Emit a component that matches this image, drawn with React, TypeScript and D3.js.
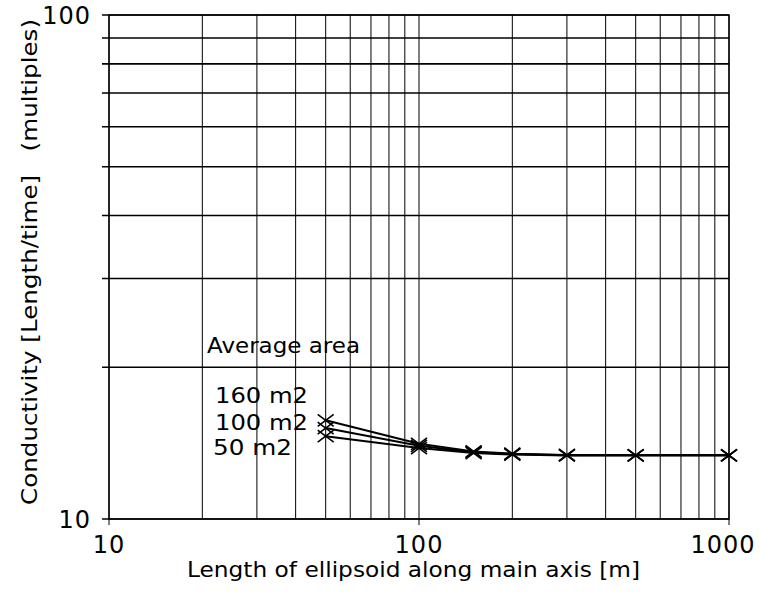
import React from "react";
import * as d3 from "d3";

const xValues = [50, 100, 150, 200, 300, 500, 1000];
const series160 = [15.7, 14.1, 13.62, 13.48, 13.4, 13.38, 13.38];
const series100 = [15.15, 13.97, 13.57, 13.45, 13.38, 13.38, 13.38];
const series50 = [14.6, 13.83, 13.52, 13.42, 13.37, 13.38, 13.38];
const seriesList = [series160, series100, series50];
const legendLabels = ["160 m2", "100 m2", "50 m2"];
const xMajor = [10, 100, 1000];
const yMajor = [10, 100];

const W = 761, H = 592;
const L = 109, R = 729, T = 15, B = 519;
const FONT = "'DejaVu Sans', sans-serif";

export default function App() {
  const x = d3.scaleLog().domain([10, 1000]).range([L, R]);
  const y = d3.scaleLog().domain([10, 100]).range([B, T]);
  const xGrid: number[] = [];
  for (const d of [10, 100]) for (let k = 1; k <= 9; k++) xGrid.push(d * k);
  xGrid.push(1000);
  const yGrid: number[] = [];
  for (let k = 1; k <= 10; k++) yGrid.push(10 * k);
  const line = d3.line<number>().x((_, i) => x(xValues[i])).y((v) => y(v));
  const legendY = [403, 430, 455];
  return (
    <svg width={W} height={H} style={{ position: "absolute", left: 0, top: 0, background: "#fff" }}>
      <rect width={W} height={H} fill="#fff" />
      {xGrid.map((v) => (
        <line key={"vx" + v} x1={x(v)} x2={x(v)} y1={T} y2={xMajor.includes(v) ? B + 6 : B}
          stroke="#000" strokeWidth={1} />
      ))}
      {yGrid.map((v) => (
        <line key={"hy" + v} x1={L - 7} x2={R} y1={y(v)} y2={y(v)} stroke="#000" strokeWidth={1.6} />
      ))}
      <rect x={L} y={T} width={R - L} height={B - T} fill="none" stroke="#000" strokeWidth={1.4} />
      {seriesList.map((s, si) => (
        <g key={"s" + si}>
          <path d={line(s) || ""} fill="none" stroke="#000" strokeWidth={2} />
          {s.map((v, i) => {
            const cx = x(xValues[i]), cy = y(v);
            return (
              <path key={i} d={`M${cx - 8},${cy - 6}L${cx + 8},${cy + 6}M${cx - 8},${cy + 6}L${cx + 8},${cy - 6}`}
                stroke="#000" strokeWidth={1.6} fill="none" />
            );
          })}
        </g>
      ))}
      {yMajor.map((v) => (
        <text key={"yl" + v} x={91} y={y(v) + 9} textAnchor="end" fontFamily={FONT} fontSize={24}
          letterSpacing={1}>{v}</text>
      ))}
      {xMajor.map((v) => (
        <text key={"xl" + v} x={x(v) - (v === 1000 ? 6 : 0)} y={553} textAnchor="middle" fontFamily={FONT} fontSize={24}
          letterSpacing={1}>{v}</text>
      ))}
      <text x={187} y={577} fontFamily={FONT} fontSize={21} textLength={453} lengthAdjust="spacingAndGlyphs">
        Length of ellipsoid along main axis [m]
      </text>
      <text transform="translate(37,505) rotate(-90)" fontFamily={FONT} fontSize={21} textLength={486}
        lengthAdjust="spacingAndGlyphs" xmlSpace="preserve">
        {"Conductivity [Length/time]   (multiples)"}
      </text>
      <text x={207} y={353} fontFamily={FONT} fontSize={21} textLength={153} lengthAdjust="spacingAndGlyphs">
        Average area
      </text>
      {legendLabels.map((t, i) => (
        <text key={t} x={i === 2 ? 213 : 215} y={legendY[i]} fontFamily={FONT} fontSize={21}
          textLength={i === 2 ? 79 : 93} lengthAdjust="spacingAndGlyphs">{t}</text>
      ))}
    </svg>
  );
}
